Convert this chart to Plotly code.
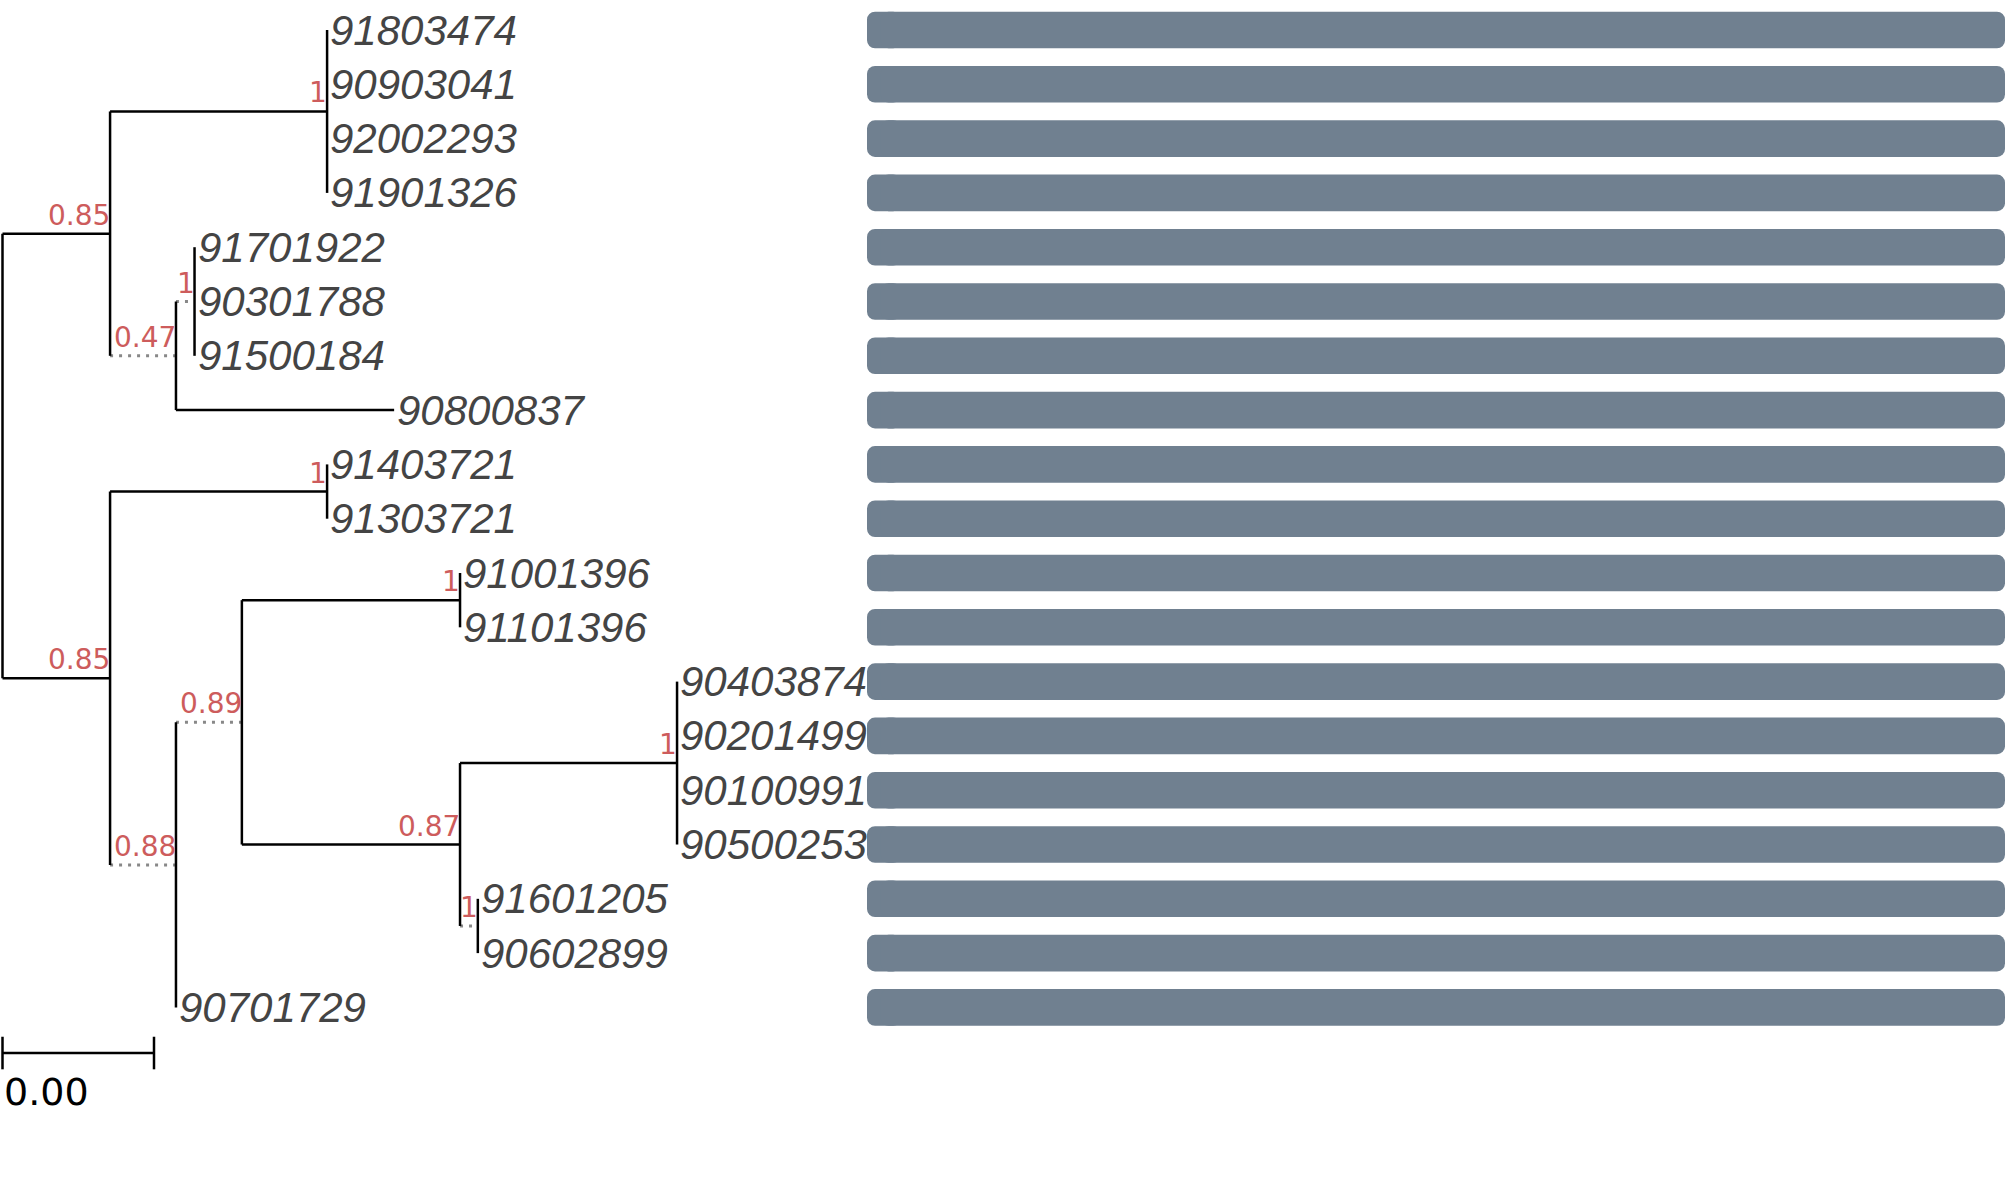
import plotly.graph_objects as go

# leaves, top to bottom
leaf_names = ["91803474", "90903041", "92002293", "91901326", "91701922", "90301788",
              "91500184", "90800837", "91403721", "91303721", "91001396", "91101396",
              "90403874", "90201499", "90100991", "90500253", "91601205", "90602899",
              "90701729"]
leaf_parent = ["A1", "A1", "A1", "A1", "A2a", "A2a", "A2a", "A2", "B1", "B1", "C1", "C1",
               "C2a", "C2a", "C2a", "C2a", "C2b", "C2b", "B2"]
leaf_length = [0, 0, 0, 0, 0, 0, 0, 0.00576, 0, 0, 0, 0, 0, 0, 0, 0, 0, 0, 0]

# internal nodes (parents listed before children)
node_names = ["root", "A", "A1", "A2", "A2a", "B", "B1", "B2", "B2a", "C1", "C2", "C2a", "C2b"]
node_parent = [None, "root", "A", "A", "A2", "root", "B", "B", "B2", "B2a", "B2a", "C2", "C2"]
node_length = [0, 0.00284, 0.00573, 0.00174, 0.00049, 0.00284, 0.00573, 0.00174, 0.00174,
               0.00576, 0.00576, 0.00573, 0.00047]
node_support = [None, "0.85", "1", "0.47", "1", "0.85", "1", "0.88", "0.89", "1", "0.87", "1", "1"]
node_dotted = [False, False, False, True, True, False, False, True, True, False, False, False, True]

bar_values = [1.0] * len(leaf_names)

scale_length = 0.004
scale_label = "0.00"

BAR_COLOR = "#708090"
SUPPORT_COLOR = "#cd5c5c"
LABEL_COLOR = "#444444"

# node positions
node_x = {}
for name, parent, length in zip(node_names, node_parent, node_length):
    node_x[name] = 0.0 if parent is None else node_x[parent] + length

leaf_x = [node_x[p] + l for p, l in zip(leaf_parent, leaf_length)]
leaf_y = list(range(len(leaf_names)))

children = {n: [] for n in node_names}
for i, p in enumerate(leaf_parent):
    children[p].append(("leaf", i))
for n, p in zip(node_names, node_parent):
    if p is not None:
        children[p].append(("node", n))

node_y = {}
span = {}
for name in reversed(node_names):
    ys = [leaf_y[c] if kind == "leaf" else node_y[c] for kind, c in children[name]]
    node_y[name] = sum(ys) / len(ys)
    span[name] = (min(ys), max(ys))

solid_x, solid_y = [], []
dot_x, dot_y = [], []

for name in node_names:
    lo, hi = span[name]
    solid_x += [node_x[name], node_x[name], None]
    solid_y += [lo, hi, None]

for name, parent, dotted in zip(node_names, node_parent, node_dotted):
    if parent is None:
        continue
    xs = [node_x[parent], node_x[name], None]
    ys = [node_y[name], node_y[name], None]
    if dotted:
        dot_x += xs
        dot_y += ys
    else:
        solid_x += xs
        solid_y += ys

for i, p in enumerate(leaf_parent):
    if leaf_length[i] > 0:
        solid_x += [node_x[p], leaf_x[i], None]
        solid_y += [leaf_y[i], leaf_y[i], None]

fig = go.Figure()

fig.add_trace(go.Scatter(x=dot_x, y=dot_y, mode="lines",
                         line=dict(color="#888888", width=3, dash="3px,6px"),
                         hoverinfo="skip", showlegend=False))
fig.add_trace(go.Scatter(x=solid_x, y=solid_y, mode="lines",
                         line=dict(color="black", width=2.5),
                         hoverinfo="skip", showlegend=False))

# scale bar
last = len(leaf_names) - 1
sb_y = last + 0.84
fig.add_trace(go.Scatter(x=[0, scale_length, None, 0, 0, None, scale_length, scale_length],
                         y=[sb_y, sb_y, None, sb_y - 0.3, sb_y + 0.3, None, sb_y - 0.3, sb_y + 0.3],
                         mode="lines", line=dict(color="black", width=2.5),
                         hoverinfo="skip", showlegend=False))

# bars: short cap rounded at the left end, main body on top rounded at the right end
cap = 0.03
start = 0.012
fig.add_trace(go.Bar(x=[-cap] * len(bar_values), base=[cap] * len(bar_values), y=leaf_y,
                     orientation="h", width=0.674, xaxis="x2",
                     marker=dict(color=BAR_COLOR, cornerradius=8, line=dict(width=0)),
                     hoverinfo="skip", showlegend=False))
fig.add_trace(go.Bar(x=[v - start for v in bar_values], base=[start] * len(bar_values), y=leaf_y,
                     orientation="h", width=0.674, xaxis="x2",
                     marker=dict(color=BAR_COLOR, cornerradius=8, line=dict(width=0)),
                     hoverinfo="skip", showlegend=False))

annotations = []
for name, x, y in zip(leaf_names, leaf_x, leaf_y):
    annotations.append(dict(x=x, y=y, xref="x", yref="y", text=name, showarrow=False,
                            xanchor="left", yanchor="middle", xshift=2, yshift=0, borderpad=0,
                            font=dict(family="Liberation Sans", size=42, color=LABEL_COLOR,
                                      style="italic")))
for name, sup in zip(node_names, node_support):
    if sup is None:
        continue
    annotations.append(dict(x=node_x[name], y=node_y[name], xref="x", yref="y", text=sup,
                            showarrow=False, xanchor="right", yanchor="bottom",
                            xshift=1, yshift=1, borderpad=0,
                            font=dict(family="DejaVu Sans", size=28, color=SUPPORT_COLOR)))
annotations.append(dict(x=0, y=sb_y + 0.72, xref="x", yref="y", text=scale_label,
                        showarrow=False, xanchor="left", yanchor="middle", borderpad=0,
                        font=dict(family="DejaVu Sans", size=38, color="black")))

px_per_unit = 37875
tree_width = 867
fig.update_layout(
    width=2007, height=1189,
    margin=dict(l=0, r=0, t=0, b=0, pad=0),
    plot_bgcolor="white", paper_bgcolor="white",
    barmode="overlay",
    xaxis=dict(domain=[0, tree_width / 2007],
               range=[-2.5 / px_per_unit, (tree_width - 2.5) / px_per_unit],
               visible=False, fixedrange=True),
    xaxis2=dict(domain=[tree_width / 2007, 2005 / 2007], range=[0, 1],
                visible=False, anchor="y"),
    yaxis=dict(range=[21.344, -0.5525], visible=False),
    annotations=annotations,
)

fig.write_html("out.html", config={"displayModeBar": False},
               post_script="document.body.style.margin = '0';")
